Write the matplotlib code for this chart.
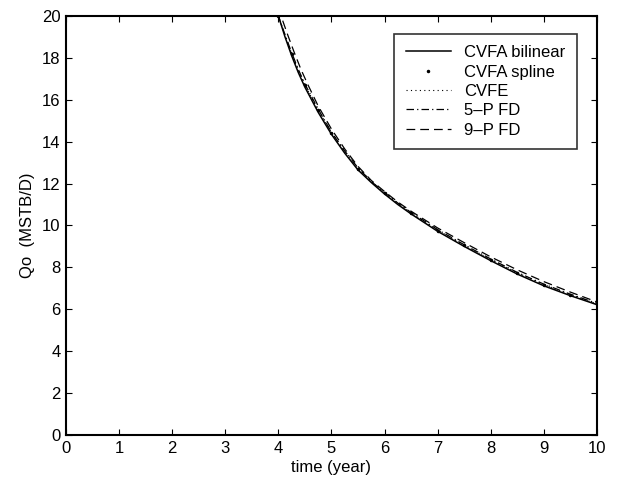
import matplotlib
matplotlib.use("Agg")
import matplotlib.pyplot as plt

plt.rcParams['font.family'] = ['Liberation Sans', 'DejaVu Sans']

# time (year) and Qo (MSTB/D)
t_bilinear = [0, 1, 2, 3, 4.0, 4.125, 4.25, 4.375, 4.5, 4.75, 5.0, 5.25, 5.5, 5.75, 6.0, 6.25, 6.5, 7.0, 7.5, 8.0, 8.5, 9.0, 9.5, 10.0]
q_bilinear = [20, 20, 20, 20, 20.0, 19.0, 18.1, 17.3, 16.6, 15.4, 14.35, 13.45, 12.65, 12.05, 11.5, 11.0, 10.55, 9.72, 9.0, 8.32, 7.68, 7.12, 6.65, 6.22]

t_spline = [4.0, 4.25, 4.5, 4.75, 5.0, 5.5, 6.0, 6.5, 7.0, 7.5, 8.0, 8.5, 9.0, 9.5, 10.0]
q_spline = [20.0, 18.2, 16.7, 15.5, 14.4, 12.7, 11.55, 10.6, 9.75, 9.05, 8.35, 7.72, 7.15, 6.68, 6.25]

t_cvfe = [0, 1, 2, 3, 4.0, 4.125, 4.25, 4.375, 4.5, 4.75, 5.0, 5.25, 5.5, 5.75, 6.0, 6.25, 6.5, 7.0, 7.5, 8.0, 8.5, 9.0, 9.5, 10.0]
q_cvfe = [20, 20, 20, 20, 20.0, 19.1, 18.2, 17.4, 16.7, 15.5, 14.45, 13.55, 12.75, 12.1, 11.55, 11.05, 10.6, 9.78, 9.05, 8.38, 7.74, 7.18, 6.7, 6.26]

t_5p = [0, 1, 2, 3, 4.0, 4.125, 4.25, 4.375, 4.5, 4.75, 5.0, 5.25, 5.5, 5.75, 6.0, 6.25, 6.5, 7.0, 7.5, 8.0, 8.5, 9.0, 9.5, 10.0]
q_5p = [20, 20, 20, 20, 20.0, 19.1, 18.25, 17.45, 16.75, 15.55, 14.45, 13.55, 12.75, 12.1, 11.57, 11.07, 10.62, 9.8, 9.08, 8.4, 7.76, 7.2, 6.72, 6.28]

t_9p = [0, 1, 2, 3, 4.05, 4.175, 4.3, 4.425, 4.55, 4.75, 5.0, 5.25, 5.5, 5.75, 6.0, 6.25, 6.5, 7.0, 7.5, 8.0, 8.5, 9.0, 9.5, 10.0]
q_9p = [20, 20, 20, 20, 20.0, 19.1, 18.25, 17.45, 16.75, 15.7, 14.6, 13.65, 12.82, 12.15, 11.62, 11.12, 10.68, 9.88, 9.18, 8.5, 7.88, 7.32, 6.82, 6.35]

x_ticks = list(range(0, 11))
y_ticks = list(range(0, 21, 2))

fig = plt.figure(figsize=(6.18, 4.83), dpi=100)
ax = fig.add_axes([0.1068, 0.0994, 0.8592, 0.8675])

ax.plot(t_bilinear, q_bilinear, '-', color='black', lw=1.1, label='CVFA bilinear')
ax.plot(t_spline, q_spline, '.', color='black', ms=3, label='CVFA spline')
ax.plot(t_cvfe, q_cvfe, color='black', lw=0.8, ls=(0, (1, 3)), label='CVFE')
ax.plot(t_5p, q_5p, color='black', lw=0.9, ls=(0, (6, 2.5, 1, 2.5)), label='5\u2013P FD')
ax.plot(t_9p, q_9p, color='black', lw=0.9, ls=(0, (7, 4)), label='9\u2013P FD')

ax.set_xlim(0, 10)
ax.set_ylim(0, 20)
ax.set_xticks(x_ticks)
ax.set_yticks(y_ticks)
ax.tick_params(direction='in', top=True, right=True, labelsize=12, length=4.5, width=0.8, pad=4)
for s in ax.spines.values():
    s.set_linewidth(1.5)

ax.set_xlabel('time (year)', fontsize=12, labelpad=3)
ax.set_ylabel('Qo  (MSTB/D)', fontsize=12, labelpad=5)

leg = ax.legend(loc='upper right', bbox_to_anchor=(0.962, 0.958), fontsize=12,
                frameon=True, fancybox=False, edgecolor='black', handlelength=2.7,
                borderpad=0.7, labelspacing=0.26, handletextpad=0.8, borderaxespad=0)
leg.get_frame().set_linewidth(1.2)

fig.savefig('out.png', dpi=100)
